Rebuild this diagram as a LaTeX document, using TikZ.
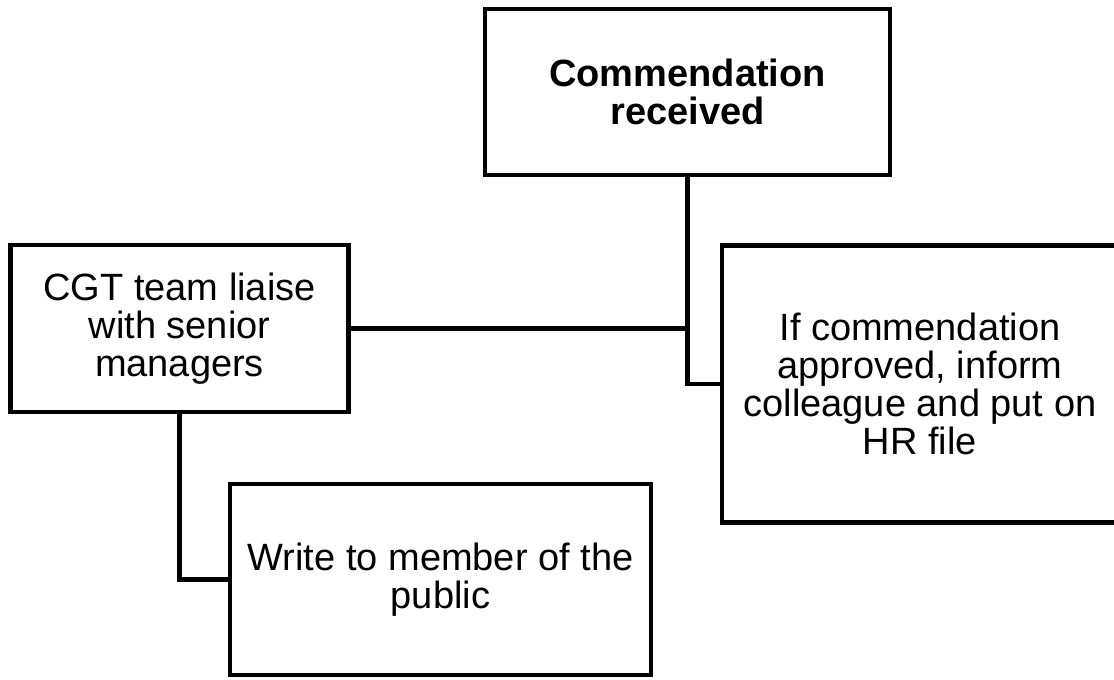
\documentclass[tikz,border=0pt]{standalone}
\usepackage{fontspec}
\setmainfont{Liberation Sans}
\begin{document}
\begin{tikzpicture}[x=0.75pt,y=-0.75pt,
  box/.style={draw=black, line width=3.7pt, fill=white, inner sep=0pt, outer sep=0pt,
    align=center, font=\fontsize{28.5}{28.5}\selectfont},
  link/.style={draw=black, line width=3.7pt}]
\useasboundingbox (0,0) rectangle (1114,680);

% boxes
\node[box, minimum width=303.75pt, minimum height=124.5pt, font=\fontsize{28.5}{28.5}\selectfont\bfseries]
  (recv) at (687.5,92) {Commendation\\received};
\node[box, minimum width=253.5pt, minimum height=125.25pt]
  (cgt) at (179.5,328.5) {CGT team liaise\\with senior\\managers};
\node[box, minimum width=297pt, minimum height=208.1pt]
  (hr) at (920,384) {If commendation\\approved, inform\\colleague and put on\\HR file};
\node[box, minimum width=315.75pt, minimum height=143.25pt]
  (pub) at (440.5,579.5) {Write to member of the\\public};

% connectors
\draw[link] (recv.south) |- (hr.west);
\draw[link] (cgt.east) -- (cgt.east -| recv.south);
\draw[link] (cgt.south) |- (pub.west);
\end{tikzpicture}
\end{document}
